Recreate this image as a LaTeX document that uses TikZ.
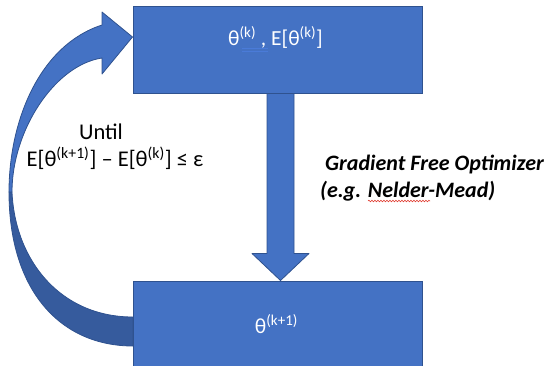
\documentclass[tikz,border=0pt]{standalone}
\usepackage{fontspec}
\setmainfont{Carlito}
\usepackage{xcolor}
\definecolor{cFill}{HTML}{4472C4}
\definecolor{cEdge}{HTML}{2F528F}
\definecolor{cBack}{HTML}{365B9D}
\definecolor{cWave}{HTML}{E03C31}
\definecolor{cMark}{HTML}{4A7BD8}
\usepackage{tikz}
\usetikzlibrary{positioning,calc,backgrounds,decorations.pathmorphing}
\tikzset{
  node-box/.style={draw=cEdge,line width=1pt,fill=cFill,inner sep=0pt,
    minimum width=289pt,minimum height=87pt},
  node-label/.style={text=white,inner sep=0pt,font=\fontsize{21.5}{25}\selectfont},
  node-text/.style={text=black,inner sep=0pt,font=\fontsize{22.5}{26}\selectfont},
  node-note/.style={text=black,inner sep=0pt,
    font=\fontsize{22}{26}\selectfont\bfseries\itshape},
  shape-front/.style={draw=cEdge,line width=0.8pt,fill=cFill,line join=round},
  shape-back/.style={draw=cEdge,line width=0.8pt,fill=cBack,line join=round},
}

\begin{document}
\begin{tikzpicture}[x=1pt,y=-1pt]
  \useasboundingbox (0,0) rectangle (551,365);
  \node[node-box] (cur) at (277.5,49.5) {};
  \node[node-box,minimum height=90pt] (nxt) at (277.5,326) {};
  \node[node-label,anchor=base] (curtext) at (275.5,45)
    {θ\textsuperscript{(k)} , E[θ\textsuperscript{(k)}]};
  \node[node-label,anchor=base] (nxttext) at (276.5,333) {θ\textsuperscript{(k+1)}};
  \node[node-text,anchor=base] (until) at (101,139) {Until};
  \node[node-text,anchor=base] (cond) at (115,166)
    {E[θ\textsuperscript{(k+1)}] – E[θ\textsuperscript{(k)}] ≤ ε};
  \node[node-note,anchor=base west] (opt) at (325,170) {Gradient Free Optimizer};
  \node[node-note,anchor=base west] (eg) at (320,197) {(e.g. Nelder-Mead)};
  % editor marks
  \draw[cMark,line width=0.7pt] (242,48) -- (268,48) (242,51) -- (268,51);
  \draw[cWave,line width=0.6pt,decorate,
    decoration={snake,amplitude=0.8pt,segment length=3pt}] (368,201) -- (430,201);
  \begin{scope}[on background layer]
    % loop back: back face, then front face with head
    \draw[shape-back] (9,192) .. controls (9,290) and (60,346) .. (133,346)
      -- (133,317) .. controls (60,317) and (15,260) .. (12,192) -- cycle;
    \draw[shape-front] (102,25) -- (102,12) -- ($(cur.west)+(0,-12.5)$)
      -- (102,74) -- (102,58) .. controls (55,65) and (12,130) .. (12,192)
      -- (9,192) .. controls (9,120) and (40,45) .. (102,25) -- cycle;
    % optimizer step
    \draw[shape-front] ($(cur.south)+(-10.5,0)$) -- ($(cur.south)+(16.5,0)$)
      -- ($(nxt.north)+(16.5,-27)$) -- ($(nxt.north)+(31.5,-27)$)
      -- ($(nxt.north)+(3,0)$) -- ($(nxt.north)+(-25.5,-27)$)
      -- ($(nxt.north)+(-10.5,-27)$) -- cycle;
  \end{scope}
\end{tikzpicture}
\end{document}
